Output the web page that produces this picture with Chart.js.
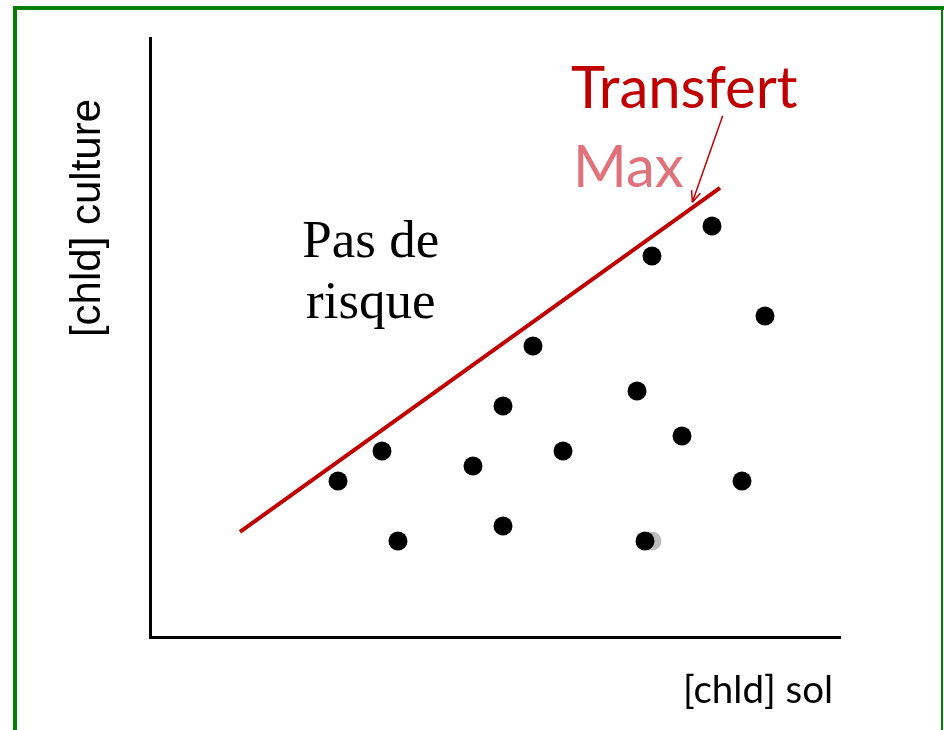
<!DOCTYPE html>
<html><head><meta charset="utf-8">
<script src="https://cdn.jsdelivr.net/npm/chart.js@4"></script>
<style>html,body{margin:0;padding:0;background:#fff}#wrap{width:944px;height:730px;position:relative}</style>
</head><body><div id="wrap"><canvas id="c" width="944" height="730"></canvas></div>
<script>
// Data (arbitrary concentration units, 0-100)
const pointsX = [27.25, 33.62, 35.94, 46.81, 51.16, 51.16, 55.51, 59.86, 70.58, 71.74, 72.75, 77.10, 81.45, 85.80, 89.13];
const pointsY = [26.04, 31.05, 16.03, 28.55, 38.56, 18.53, 48.58, 31.05, 41.07, 16.03, 63.61, 33.56, 68.61, 26.04, 53.59];
const shadowX = [72.75];
const shadowY = [16.03];
const maxLineX = [13.04, 82.61];
const maxLineY = [17.53, 74.96];
const xTitle = '[chld] sol';
const yTitle = '[chld] culture';
const zoneLabel = ['Pas de', 'risque'];
const lineLabel = ['Transfert', 'Max'];

const toPts = (xs, ys) => xs.map((x, i) => ({x, y: ys[i]}));

const decor = {
  id: 'decor',
  beforeDraw(chart) {
    const ctx = chart.ctx;
    ctx.save();
    ctx.fillStyle = '#fff';
    ctx.fillRect(0, 0, chart.width, chart.height);
    ctx.fillStyle = '#008000';
    ctx.fillRect(13, 6, 931, 4);
    ctx.fillRect(13, 6, 4, 730);
    ctx.fillRect(941, 6, 2, 730);
    ctx.restore();
  },
  afterDraw(chart) {
    const ctx = chart.ctx;
    const xs = chart.scales.x, ys = chart.scales.y;
    ctx.save();
    // y title
    ctx.fillStyle = '#000';
    ctx.font = '42px "Liberation Sans"';
    ctx.textAlign = 'center';
    ctx.textBaseline = 'alphabetic';
    ctx.translate(100, 218);
    ctx.rotate(-Math.PI / 2);
    ctx.fillText(yTitle, 0, 0);
    ctx.restore();
    ctx.save();
    ctx.fillStyle = '#000';
    ctx.font = '38.5px Lato';
    ctx.textAlign = 'left';
    ctx.textBaseline = 'alphabetic';
    ctx.fillText(xTitle, 683, 703);
    // zone label
    ctx.font = '53px "Liberation Serif"';
    ctx.textAlign = 'center';
    ctx.fillText(zoneLabel[0], xs.getPixelForValue(32.0), ys.getPixelForValue(63.4));
    ctx.fillText(zoneLabel[1], xs.getPixelForValue(32.0), ys.getPixelForValue(53.3));
    // line label
    ctx.textAlign = 'left';
    ctx.font = '58px Lato';
    ctx.fillStyle = '#c00000';
    ctx.fillText(lineLabel[0], xs.getPixelForValue(61.0), ys.getPixelForValue(88.3));
    ctx.fillStyle = '#e0727c';
    ctx.fillText(lineLabel[1], xs.getPixelForValue(61.3), ys.getPixelForValue(75.2));
    // arrow
    const x1 = xs.getPixelForValue(83.0), y1 = ys.getPixelForValue(87.0);
    const x2 = xs.getPixelForValue(78.6), y2 = ys.getPixelForValue(72.6);
    ctx.strokeStyle = '#c00000';
    ctx.lineWidth = 1.5;
    ctx.beginPath(); ctx.moveTo(x1, y1); ctx.lineTo(x2, y2); ctx.stroke();
    const a = Math.atan2(y2 - y1, x2 - x1);
    ctx.beginPath();
    ctx.moveTo(x2, y2);
    ctx.lineTo(x2 - 12 * Math.cos(a - 0.4), y2 - 12 * Math.sin(a - 0.4));
    ctx.moveTo(x2, y2);
    ctx.lineTo(x2 - 12 * Math.cos(a + 0.4), y2 - 12 * Math.sin(a + 0.4));
    ctx.stroke();
    ctx.restore();
  }
};

new Chart(document.getElementById('c'), {
  type: 'scatter',
  data: {
    datasets: [
      {type: 'line', data: toPts(maxLineX, maxLineY), borderColor: '#c00000', borderWidth: 4, pointRadius: 0, fill: false, order: 3},
      {data: toPts(shadowX, shadowY), backgroundColor: '#bdbdbd', borderWidth: 0, pointRadius: 9.5, order: 2},
      {data: toPts(pointsX, pointsY), backgroundColor: '#000', borderColor: '#000', borderWidth: 0, pointRadius: 9.5, order: 1}
    ]
  },
  options: {
    responsive: false,
    animation: false,
    events: [],
    layout: {padding: {left: 150, top: 38, right: 104, bottom: 93}},
    plugins: {legend: {display: false}, tooltip: {enabled: false}},
    scales: {
      x: {type: 'linear', min: 0, max: 100, grid: {display: false}, ticks: {display: false},
          border: {display: true, color: '#000', width: 3},
          afterFit(s) { s.height = 0; }},
      y: {type: 'linear', min: 0, max: 100, grid: {display: false}, ticks: {display: false},
          border: {display: true, color: '#000', width: 3},
          afterFit(s) { s.width = 0; }}
    }
  },
  plugins: [decor]
});
</script></body></html>
